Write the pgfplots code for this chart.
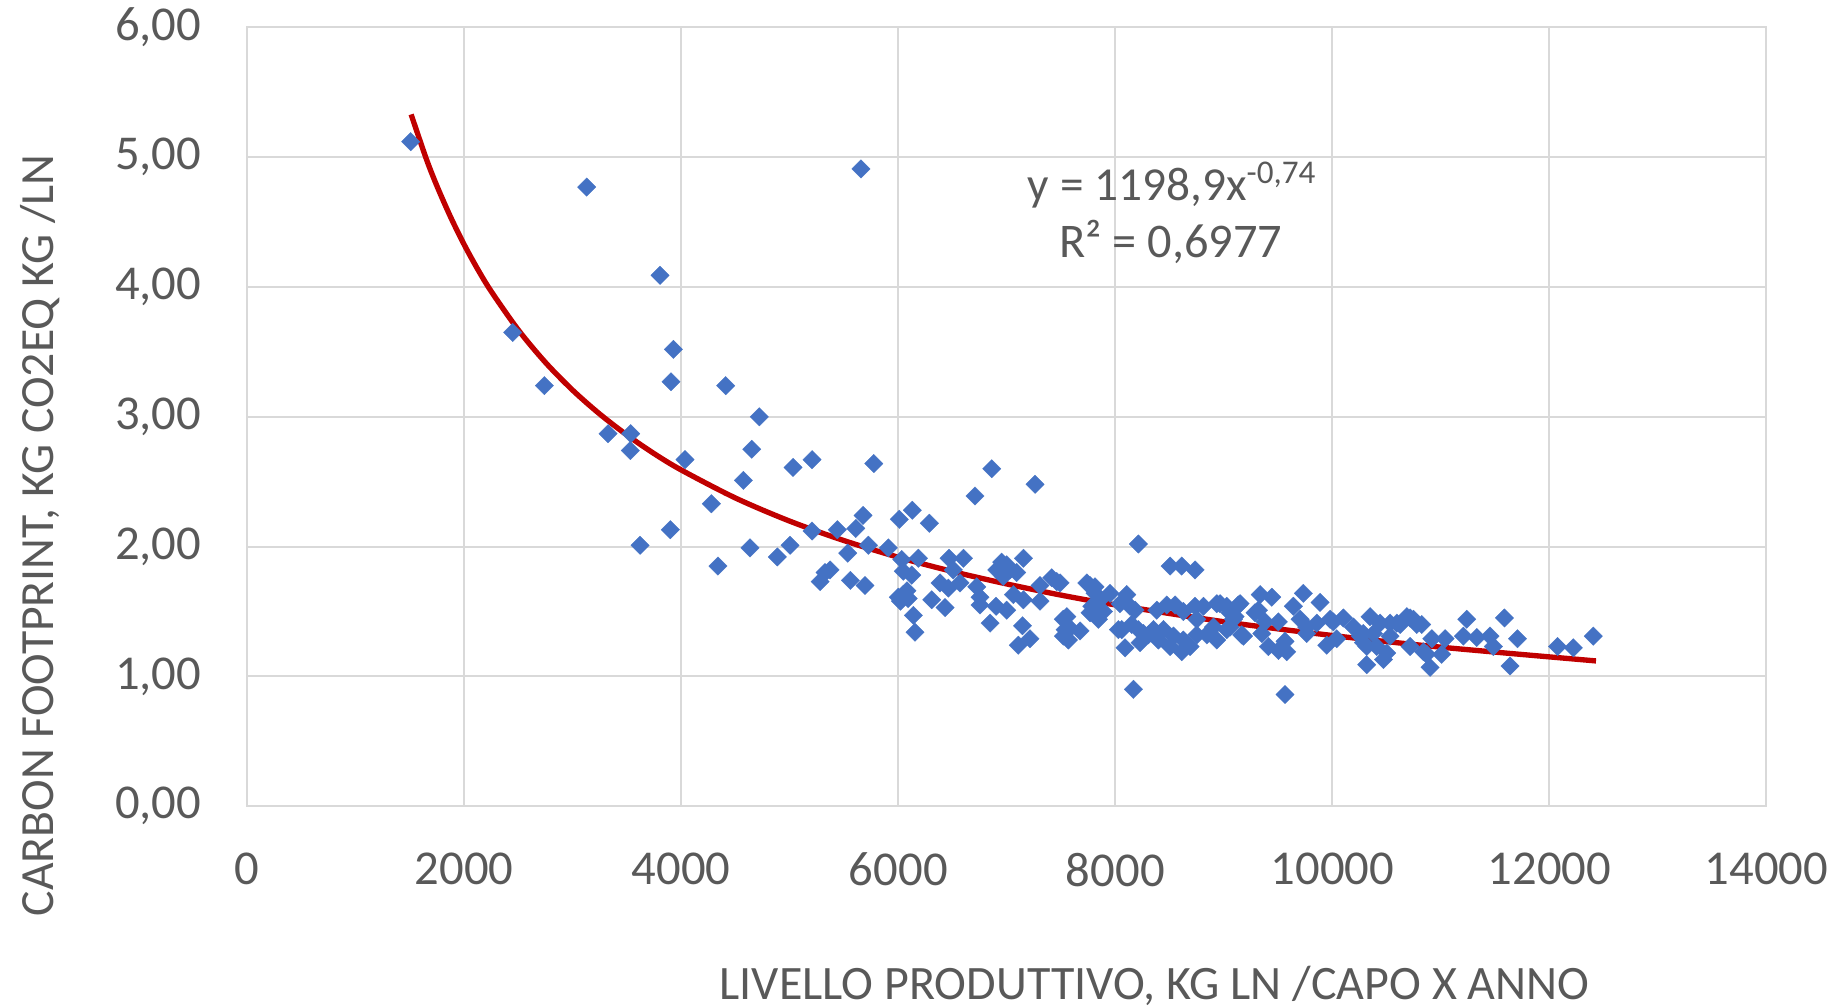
\documentclass[border=0pt]{standalone}
\usepackage{fontspec}
\setmainfont{Carlito}
\usepackage{pgfplots}
\pgfplotsset{compat=1.18}
\definecolor{txt}{HTML}{595959}
\definecolor{gridc}{HTML}{D9D9D9}
\definecolor{mblue}{HTML}{4472C4}
\definecolor{tred}{HTML}{C00000}
\pgfplotstableread{
x y
1506 5.12
3128 4.77
5656 4.91
3804 4.09
2446 3.65
3927 3.52
2738 3.24
3905 3.27
4409 3.24
4719 3.00
3325 2.87
3534 2.87
3530 2.74
4034 2.67
4649 2.75
4572 2.51
5205 2.67
5030 2.61
5774 2.64
4277 2.33
3899 2.13
3620 2.01
5675 2.24
5205 2.12
5438 2.13
5608 2.14
5724 2.01
4633 1.99
5002 2.01
4885 1.92
4338 1.85
5534 1.95
5325 1.80
5371 1.82
5279 1.73
5558 1.74
5693 1.70
5908 1.99
6009 2.21
6129 2.28
6286 2.18
6707 2.39
6861 2.60
7260 2.48
6032 1.90
6185 1.91
6046 1.81
6124 1.78
6046 1.63
6000 1.61
6080 1.66
6020 1.58
6090 1.60
6139 1.47
6154 1.34
6308 1.59
6431 1.53
6385 1.72
6461 1.68
6468 1.91
6600 1.91
6507 1.82
6569 1.72
6723 1.69
6753 1.61
6753 1.55
6846 1.41
6901 1.54
6999 1.51
6953 1.88
6907 1.82
7030 1.82
6968 1.77
7091 1.80
7153 1.91
7060 1.63
7153 1.59
7144 1.39
7214 1.29
7106 1.24
7306 1.70
7306 1.58
7414 1.76
7491 1.72
7521 1.44
7537 1.36
7521 1.31
7460 1.73
7000 1.86
6980 1.80
7767 1.70
7952 1.64
8105 1.63
7813 1.64
7767 1.49
7844 1.44
7553 1.46
7583 1.37
7675 1.35
7568 1.28
8044 1.56
8136 1.54
8182 1.51
8059 1.36
8151 1.40
8213 1.36
8305 1.32
8397 1.28
8090 1.22
8382 1.51
8474 1.55
8551 1.55
8627 1.50
8735 1.54
8444 1.36
8536 1.31
8627 1.28
8689 1.23
8612 1.19
8505 1.23
8751 1.32
8751 1.44
8212 2.02
8505 1.85
8612 1.85
8735 1.82
8167 0.90
7890 1.50
7783 1.54
7860 1.59
7737 1.72
7813 1.69
8028 1.36
8352 1.36
8259 1.33
8228 1.26
8812 1.54
8935 1.56
9027 1.54
9150 1.56
9104 1.46
8904 1.38
9027 1.36
8935 1.28
8843 1.32
9165 1.32
8965 1.56
9058 1.49
9134 1.55
9088 1.44
9181 1.31
9058 1.38
9335 1.63
9442 1.61
9319 1.51
9288 1.49
9380 1.42
9503 1.42
9350 1.33
9411 1.23
9503 1.20
9564 1.27
9580 1.19
9564 0.86
9641 1.54
9733 1.64
9887 1.57
9703 1.44
9764 1.38
9857 1.41
9764 1.33
9980 1.44
9949 1.24
10102 1.45
10041 1.29
10010 1.42
10194 1.38
10286 1.33
10348 1.46
10440 1.41
10532 1.41
10625 1.40
10717 1.45
10778 1.40
10286 1.26
10409 1.23
10502 1.18
10471 1.13
10317 1.09
10717 1.23
10840 1.19
10256 1.31
10317 1.23
10379 1.33
10532 1.31
10594 1.41
10686 1.46
10748 1.44
10917 1.29
11039 1.29
10901 1.07
11008 1.17
10870 1.17
11239 1.44
11208 1.31
11331 1.30
11453 1.31
11484 1.23
11586 1.45
11706 1.29
11638 1.08
12076 1.23
12221 1.22
12405 1.31
10824 1.40
10778 1.41
}\scatterdata
\begin{document}
\begin{tikzpicture}
\begin{axis}[
  scale only axis,
  width=455.7pt, height=233.6pt,
  xmin=0, xmax=14000, ymin=0, ymax=6,
  xtick={0,2000,4000,6000,8000,10000,12000,14000},
  ytick={0,1,2,3,4,5,6},
  grid=major,
  major grid style={draw=gridc, line width=0.6pt},
  axis line style={draw=gridc, line width=0.6pt},
  major tick length=0pt,
  clip=false,
  scaled ticks=false,
  tick label style={font=\fontsize{14.6pt}{17pt}\selectfont, text=txt, inner sep=0pt},
  /pgf/number format/assume math mode=true,
  xticklabel style={yshift=-13.8pt, /pgf/number format/1000 sep={}},
  yticklabel style={xshift=-13.6pt, /pgf/number format/fixed, /pgf/number format/fixed zerofill, /pgf/number format/precision=2, /pgf/number format/use comma},
  xlabel={LIVELLO PRODUTTIVO, KG LN /CAPO X ANNO},
  xlabel style={at={(rel axis cs:0.5973,-0.2487)}, anchor=base, inner sep=0pt, font=\fontsize{14.4pt}{17pt}\selectfont, text=txt},
  ylabel={CARBON FOOTPRINT, KG CO2EQ KG /LN},
  ylabel style={at={(rel axis cs:-0.1279,0.3477)}, anchor=base, inner sep=0pt, font=\fontsize{14.3pt}{17pt}\selectfont, text=txt},
]
\path (rel axis cs:-0.1628,-0.2577) rectangle (rel axis cs:1.0485,1.0353);
\addplot[only marks, mark=square*, mark size=1.95pt,
  mark options={rotate=45, fill=mblue, draw=mblue, line width=0.1pt}]
  table[x=x, y=y] {\scatterdata};
\addplot[tred, line width=1.6pt, smooth, no marks] coordinates {
(1510,5.33) (1650,4.987) (1750,4.774) (1875,4.537) (2000,4.325) (2125,4.135)
(2250,3.964) (2500,3.667) (2750,3.417) (3000,3.204) (3250,3.020) (3500,2.859)
(3750,2.716) (4000,2.590) (4500,2.374) (5000,2.196) (5500,2.046) (6000,1.918)
(6500,1.808) (7000,1.712) (7500,1.626) (8000,1.551) (9000,1.421) (10000,1.315)
(11000,1.225) (12430,1.119)
};
\node[anchor=base, inner sep=0pt, font=\fontsize{14.2pt}{17pt}\selectfont, text=txt] at (rel axis cs:0.6091,0.7772) {y = 1198,9x\textsuperscript{-0,74}};
\node[anchor=base, inner sep=0pt, font=\fontsize{14.5pt}{17pt}\selectfont, text=txt] at (rel axis cs:0.6078,0.704) {R² = 0,6977};
\end{axis}
\end{tikzpicture}
\end{document}
